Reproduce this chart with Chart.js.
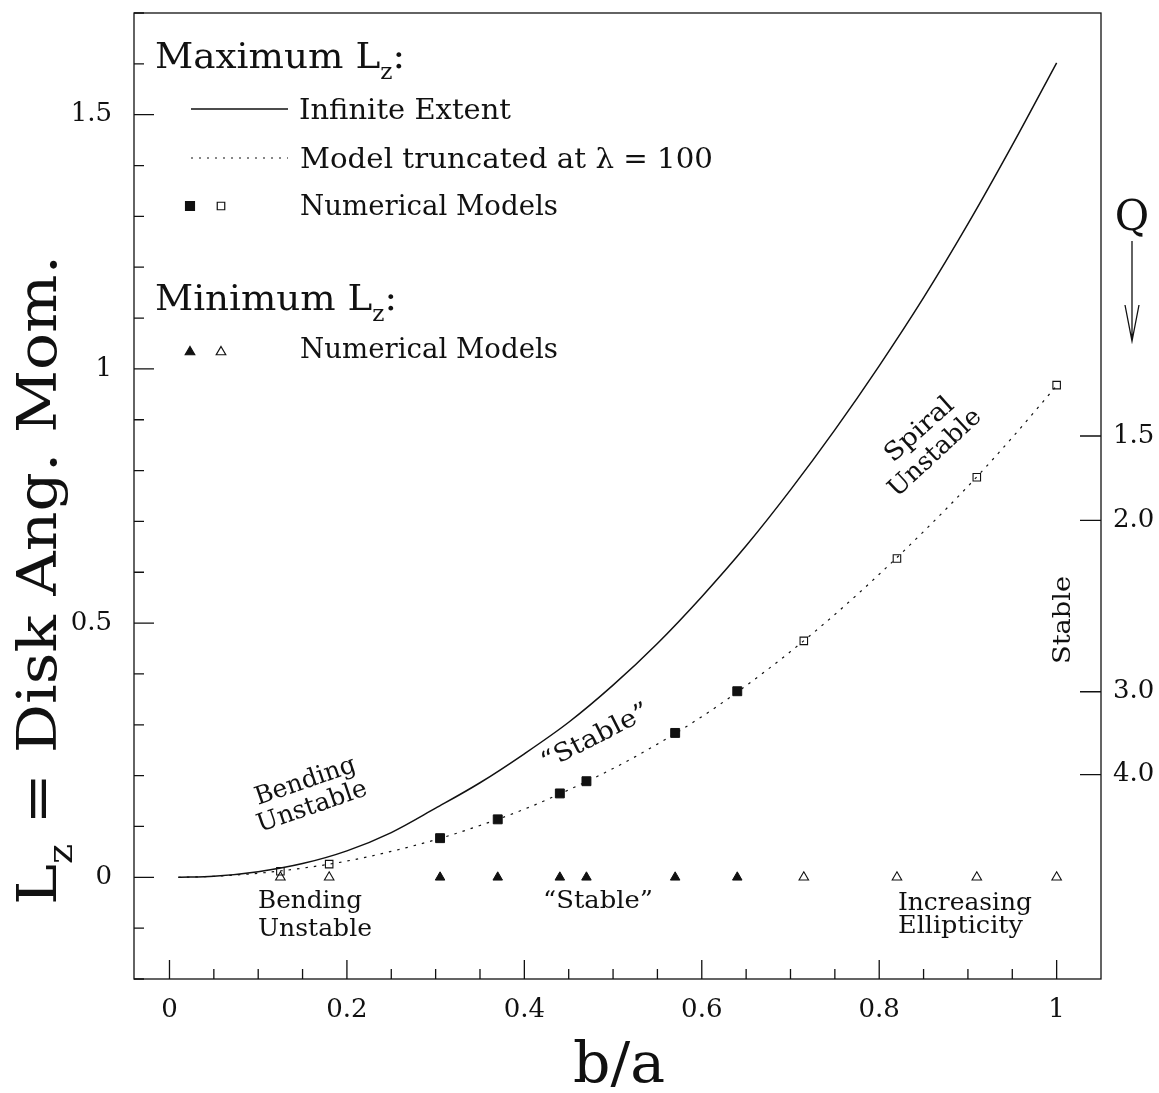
<!DOCTYPE html>
<html><head><meta charset="utf-8">
<script src="https://cdn.jsdelivr.net/npm/chart.js@4/dist/chart.umd.min.js"></script>
<style>html,body{margin:0;padding:0;background:#fff}#wrap{width:1159px;height:1093px;position:relative}</style>
</head><body><div id="wrap"><canvas id="c" width="1159" height="1093"></canvas></div>
<script>
// ---- data ----
const curveBA = [0.01,0.05,0.1,0.15,0.2,0.25,0.3,0.35,0.4,0.45,0.5,0.55,0.6,0.65,0.7,0.75,0.8,0.85,0.9,0.95,1.0];
const infiniteExtent = [0,0.002,0.011,0.027,0.052,0.088,0.136,0.186,0.243,0.305,0.378,0.460,0.552,0.652,0.762,0.880,1.006,1.140,1.285,1.440,1.602];
const truncatedModel = [0,0.002,0.008,0.018,0.032,0.051,0.074,0.102,0.134,0.172,0.214,0.262,0.316,0.377,0.444,0.517,0.596,0.680,0.769,0.865,0.967];
const filledBA = [0.305,0.37,0.44,0.47,0.57,0.64];
const filledMaxLz = [0.077,0.114,0.165,0.189,0.284,0.366];
const filledMinLz = [0,0,0,0,0,0];
const openBA = [0.125,0.18,0.715,0.82,0.91,1.0];
const openMaxLz = [0.012,0.026,0.465,0.627,0.787,0.968];
const openMinLz = [0,0,0,0,0,0];
const xTickValues = [0,0.2,0.4,0.6,0.8,1];
const xTickLabels = ['0','0.2','0.4','0.6','0.8','1'];
const yTickValues = [0,0.5,1,1.5];
const yTickLabels = ['0','0.5','1','1.5'];
const qTickLabels = ['1.5','2.0','3.0','4.0'];
const qTickLz = [0.868,0.702,0.365,0.202];

const FAM = '"DejaVu Serif", "Liberation Serif", serif';
const INK = '#111';
const pts = (xs, ys) => xs.map((x, i) => ({x, y: ys[i]}));

function drawRich(ctx, segs, x, y, o) {
  const size = o.size;
  let w = 0;
  const parts = segs.map(s => {
    const sub = !!s[1];
    const fs = sub ? size * 0.62 : size;
    ctx.font = fs + 'px ' + FAM;
    const mw = ctx.measureText(s[0]).width;
    w += mw;
    return {t: s[0], sub, fs, mw};
  });
  const sx = o.width ? o.width / w : 1;
  ctx.save();
  ctx.translate(x, y);
  ctx.rotate((o.rot || 0) * Math.PI / 180);
  ctx.scale(sx, 1);
  let cx = o.align === 'center' ? -w / 2 : (o.align === 'right' ? -w : 0);
  ctx.textBaseline = 'alphabetic';
  ctx.textAlign = 'left';
  ctx.fillStyle = INK;
  for (const p of parts) {
    ctx.font = p.fs + 'px ' + FAM;
    ctx.fillText(p.t, cx, p.sub ? size * 0.3 : 0);
    cx += p.mw;
  }
  ctx.restore();
}

const decor = {
  id: 'decor',
  beforeDraw(chart) {
    const c = chart.ctx;
    c.save(); c.fillStyle = '#fff'; c.fillRect(0, 0, chart.width, chart.height); c.restore();
  },
  afterDraw(chart) {
    const c = chart.ctx;
    const a = chart.chartArea;
    const sx = chart.scales.x, sy = chart.scales.y, sq = chart.scales.y2;
    c.save();
    c.strokeStyle = INK; c.lineWidth = 1.3;
    c.strokeRect(a.left, a.top, a.right - a.left, a.bottom - a.top);
    c.beginPath();
    for (let i = 0; i <= 20; i++) {
      const px = sx.getPixelForValue(i * 0.05);
      const len = i % 4 === 0 ? 19 : 10;
      c.moveTo(px, a.bottom); c.lineTo(px, a.bottom - len);
    }
    for (let i = -2; i <= 17; i++) {
      const py = sy.getPixelForValue(i * 0.1);
      const len = i % 5 === 0 ? 20 : 10;
      c.moveTo(a.left, py); c.lineTo(a.left + len, py);
    }
    qTickLz.forEach(v => {
      const py = sq.getPixelForValue(v);
      c.moveTo(a.right, py); c.lineTo(a.right - 21, py);
    });
    c.stroke();

    c.beginPath();
    c.moveTo(1132, 241); c.lineTo(1132, 341);
    c.moveTo(1125, 305); c.lineTo(1132, 341); c.lineTo(1139, 305);
    c.stroke();

    c.lineWidth = 1.4;
    c.beginPath(); c.moveTo(191, 109); c.lineTo(288, 109); c.stroke();
    c.setLineDash([2, 6]); c.lineWidth = 1.2;
    c.beginPath(); c.moveTo(191, 158); c.lineTo(288, 158); c.stroke();
    c.setLineDash([]);
    const H = Chart.helpers;
    c.fillStyle = INK; c.strokeStyle = INK;
    H.drawPoint(c, {pointStyle: 'rect', radius: 6.3, borderWidth: 1}, 190, 206);
    c.fillStyle = 'rgba(0,0,0,0)';
    H.drawPoint(c, {pointStyle: 'rect', radius: 5.3, borderWidth: 1.1}, 221, 206);
    c.fillStyle = INK;
    H.drawPoint(c, {pointStyle: 'triangle', radius: 5.5, borderWidth: 1}, 190, 352);
    c.fillStyle = 'rgba(0,0,0,0)';
    H.drawPoint(c, {pointStyle: 'triangle', radius: 5.5, borderWidth: 1.1}, 221, 352);
    c.restore();

    drawRich(c, [['Maximum L'], ['z', 1], [':']], 155, 68, {size: 36, width: 250});
    drawRich(c, [['Infinite Extent']], 299, 119, {size: 27, width: 212});
    drawRich(c, [['Model truncated at \u03bb = 100']], 300, 168, {size: 27, width: 413});
    drawRich(c, [['Numerical Models']], 300, 215, {size: 27, width: 258});
    drawRich(c, [['Minimum L'], ['z', 1], [':']], 155, 310, {size: 36, width: 242});
    drawRich(c, [['Numerical Models']], 300, 358, {size: 27, width: 258});

    drawRich(c, [['Bending']], 258, 805, {size: 25, rot: -19, width: 105});
    drawRich(c, [['Unstable']], 260, 832, {size: 25, rot: -19, width: 115});
    drawRich(c, [['\u201cStable\u201d']], 546, 770, {size: 25, rot: -27, width: 118});
    drawRich(c, [['Spiral']], 893, 463, {size: 25, rot: -42, width: 84});
    drawRich(c, [['Unstable']], 897, 498, {size: 25, rot: -43, width: 117});
    drawRich(c, [['Stable']], 1070, 620, {size: 25, rot: -90, align: 'center', width: 88});
    drawRich(c, [['Bending']], 258, 908, {size: 25, width: 104});
    drawRich(c, [['Unstable']], 258, 936, {size: 25, width: 114});
    drawRich(c, [['\u201cStable\u201d']], 543, 908, {size: 25, width: 110});
    drawRich(c, [['Increasing']], 898, 910, {size: 25, width: 134});
    drawRich(c, [['Ellipticity']], 898, 933, {size: 25, width: 125});
    drawRich(c, [['Q']], 1132, 230, {size: 42, align: 'center'});

    drawRich(c, [['b/a']], 619, 1082, {size: 56, align: 'center', width: 92});
    drawRich(c, [['L'], ['z', 1], [' = Disk Ang. Mom.']], 56, 580, {size: 54, rot: -90, align: 'center', width: 650});
  }
};

const noPad = s => { s.paddingTop = 0; s.paddingBottom = 0; s.paddingLeft = 0; s.paddingRight = 0; };
const tickFont = {family: FAM, size: 26};
new Chart(document.getElementById('c'), {
  type: 'scatter',
  data: {
    datasets: [
      {label: 'max filled', data: pts(filledBA, filledMaxLz), pointStyle: 'rect', pointRadius: 6.3,
       backgroundColor: INK, borderColor: INK, borderWidth: 1},
      {label: 'max open', data: pts(openBA, openMaxLz), pointStyle: 'rect', pointRadius: 5.3,
       backgroundColor: 'rgba(0,0,0,0)', borderColor: INK, borderWidth: 1.1},
      {label: 'min filled', data: pts(filledBA, filledMinLz), pointStyle: 'triangle', pointRadius: 5.5,
       backgroundColor: INK, borderColor: INK, borderWidth: 1},
      {label: 'min open', data: pts(openBA, openMinLz), pointStyle: 'triangle', pointRadius: 5.5,
       backgroundColor: 'rgba(0,0,0,0)', borderColor: INK, borderWidth: 1.1},
      {label: 'Model truncated at \u03bb = 100', data: pts(curveBA, truncatedModel), showLine: true,
       pointRadius: 0, borderColor: INK, borderWidth: 1.2, borderDash: [2.5, 6], cubicInterpolationMode: 'monotone', fill: false},
      {label: 'Infinite Extent', data: pts(curveBA, infiniteExtent), showLine: true,
       pointRadius: 0, borderColor: INK, borderWidth: 1.5, cubicInterpolationMode: 'monotone', fill: false}
    ]
  },
  options: {
    responsive: false, animation: false, devicePixelRatio: 1,
    layout: {padding: {top: 13, left: 0, right: 0, bottom: 0}},
    plugins: {legend: {display: false}, tooltip: {enabled: false}},
    scales: {
      x: {type: 'linear', position: 'bottom', min: -0.04, max: 1.05,
          grid: {display: false, drawTicks: false}, border: {display: false},
          ticks: {font: tickFont, color: INK, padding: 16, autoSkip: false, maxRotation: 0,
                  callback: (v, i) => xTickLabels[i]},
          afterBuildTicks: s => { s.ticks = xTickValues.map(v => ({value: v})); },
          afterFit: s => { s.height = 114; noPad(s); }},
      y: {type: 'linear', position: 'left', min: -0.2, max: 1.7,
          grid: {display: false, drawTicks: false}, border: {display: false},
          ticks: {font: tickFont, color: INK, padding: 22, autoSkip: false,
                  callback: (v, i) => yTickLabels[i]},
          afterBuildTicks: s => { s.ticks = yTickValues.map(v => ({value: v})); },
          afterFit: s => { s.width = 134; noPad(s); }},
      y2: {type: 'linear', position: 'right', min: -0.2, max: 1.7,
          grid: {display: false, drawTicks: false}, border: {display: false},
          ticks: {font: tickFont, color: INK, padding: 12, autoSkip: false,
                  callback: (v, i) => qTickLabels[i]},
          afterBuildTicks: s => { s.ticks = qTickLz.map(v => ({value: v})); },
          afterFit: s => { s.width = 58; noPad(s); }}
    }
  },
  plugins: [decor]
});
</script></body></html>
